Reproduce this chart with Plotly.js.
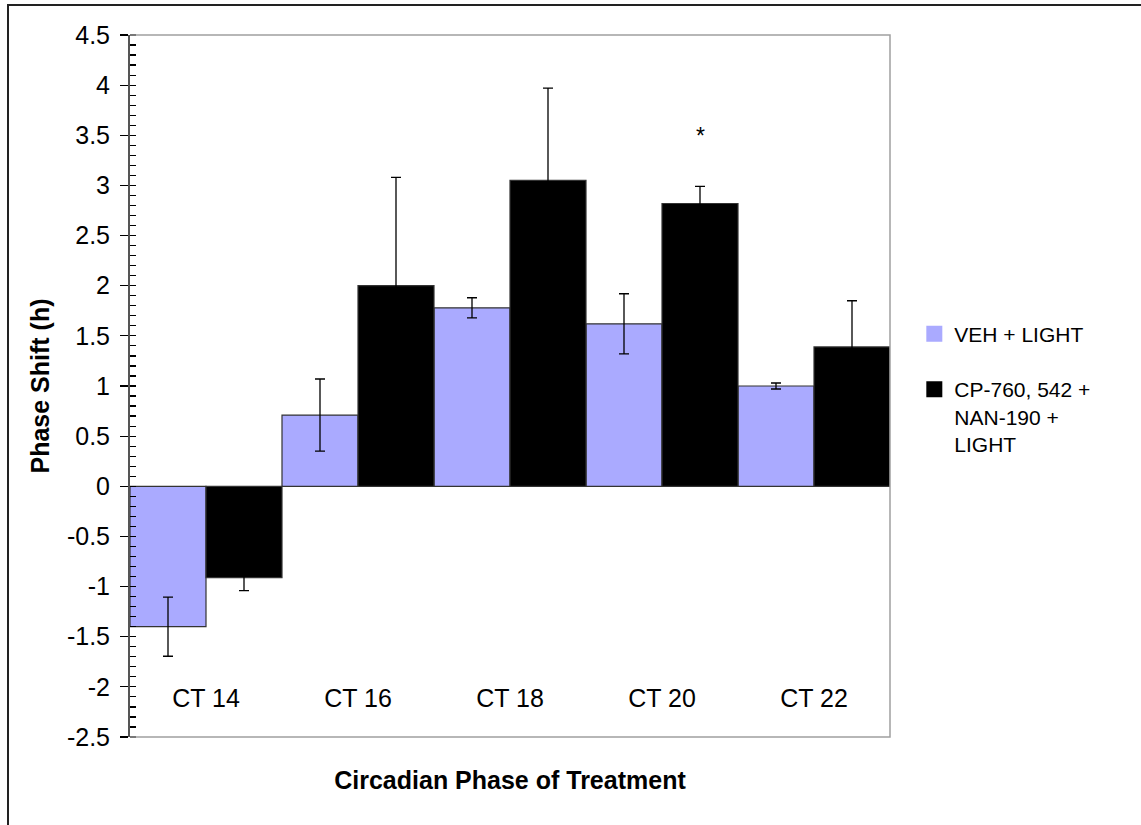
<!DOCTYPE html>
<html>
<head>
<meta charset="utf-8">
<script src="https://cdn.plot.ly/plotly-3.0.1.min.js"></script>
<style>
html,body{margin:0;padding:0;background:#fff;overflow:hidden;}
#wrap{position:relative;width:1141px;height:825px;}
#chart{width:1141px;height:825px;}
#frame{position:absolute;left:7px;top:4px;width:1200px;height:900px;border-top:2px solid #222;border-left:2px solid #222;pointer-events:none;}
</style>
</head>
<body>
<div id="wrap"><div id="chart"></div><div id="frame"></div></div>
<script>
// ---- data ----
var categories = ['CT 14', 'CT 16', 'CT 18', 'CT 20', 'CT 22'];
var vehName = 'VEH + LIGHT';
var vehValues = [-1.40, 0.71, 1.78, 1.62, 1.00];
var vehErrors = [0.295, 0.36, 0.10, 0.30, 0.03];
var cpName = 'CP-760, 542 +<br>NAN-190 +<br>LIGHT';
var cpValues = [-0.91, 2.00, 3.05, 2.82, 1.39];
var cpErrors = [0.13, 1.08, 0.92, 0.17, 0.46];
var yTickVals = [-2.5, -2, -1.5, -1, -0.5, 0, 0.5, 1, 1.5, 2, 2.5, 3, 3.5, 4, 4.5];
var yTickText = ['-2.5', '-2', '-1.5', '-1', '-0.5', '0', '0.5', '1', '1.5', '2', '2.5', '3', '3.5', '4', '4.5'];
var starCategory = 'CT 20';
var starValue = 3.47;

var vehColor = '#aaaaff';
var cpColor = '#000000';
var FONT = 'Liberation Sans, Arial, sans-serif';

var traces = [
  {
    type: 'bar', x: categories, y: vehValues, name: vehName, showlegend: false,
    marker: {color: vehColor, line: {color: '#333', width: 1.2}},
    error_y: {type: 'data', array: vehErrors, visible: true, color: '#000', thickness: 1.3, width: 5}
  },
  {
    type: 'bar', x: categories, y: cpValues, name: cpName, showlegend: false,
    marker: {color: cpColor, line: {color: '#333', width: 1.2}},
    error_y: {type: 'data', array: cpErrors, visible: true, color: '#000', thickness: 1.3, width: 5}
  },
  {
    type: 'scatter', mode: 'markers', x: [null], y: [null], name: vehName, legendgroup: 'a',
    marker: {symbol: 'square', size: 16, color: vehColor, line: {width: 0}}, hoverinfo: 'skip'
  },
  {
    type: 'scatter', mode: 'markers', x: [null], y: [null], name: cpName, legendgroup: 'b',
    marker: {symbol: 'square', size: 16, color: cpColor, line: {width: 0}}, hoverinfo: 'skip'
  }
];

var layout = {
  width: 1141, height: 825,
  margin: {l: 130, r: 251, t: 35, b: 88, pad: 0},
  paper_bgcolor: '#fff', plot_bgcolor: '#fff',
  font: {family: FONT, color: '#000', size: 22},
  barmode: 'group', bargap: 0, bargroupgap: 0,
  showlegend: true,
  legend: {
    x: 1.032, y: 0.603, xanchor: 'left', yanchor: 'top',
    font: {family: FONT, size: 21, color: '#000'},
    valign: 'top', traceorder: 'grouped', tracegroupgap: 25,
    bgcolor: 'rgba(0,0,0,0)', borderwidth: 0
  },
  xaxis: {
    type: 'category', categoryorder: 'array', categoryarray: categories,
    range: [-0.5, 4.5], showgrid: false, zeroline: false, showline: false,
    anchor: 'free', position: 0.08,
    ticks: '',
    tickfont: {family: FONT, size: 25, color: '#000'},
    title: {text: 'Circadian Phase of Treatment', standoff: 60,
      font: {family: FONT, size: 25, color: '#000', weight: 'bold'}},
    fixedrange: true
  },
  yaxis: {
    range: [-2.5, 4.5], tickmode: 'array', tickvals: yTickVals, ticktext: yTickText,
    showgrid: false, zeroline: true, zerolinecolor: '#000', zerolinewidth: 1.2,
    showline: true, linecolor: '#555', linewidth: 2,
    ticks: 'outside', ticklen: 8, tickwidth: 1.2, tickcolor: '#000',
    ticklabelstandoff: 5,
    minor: {dtick: 0.1, tick0: 0, ticks: 'inside', ticklen: 6, tickwidth: 1.2, tickcolor: '#000', showgrid: false},
    tickfont: {family: FONT, size: 25, color: '#000'},
    title: {text: 'Phase Shift (h)', standoff: 10,
      font: {family: FONT, size: 25, color: '#000', weight: 'bold'}},
    fixedrange: true
  },
  shapes: [
    {type: 'path', xref: 'paper', yref: 'paper', path: 'M0,1 L1,1 L1,0 L0,0',
     line: {color: '#a0a0a0', width: 1.5}}
  ],
  annotations: [
    {x: starCategory, y: starValue, xref: 'x', yref: 'y', xshift: 38, yshift: 2, text: '*', showarrow: false,
     font: {family: FONT, size: 23, color: '#000'}}
  ]
};

Plotly.newPlot('chart', traces, layout, {displayModeBar: false, staticPlot: true});
</script>
</body>
</html>
